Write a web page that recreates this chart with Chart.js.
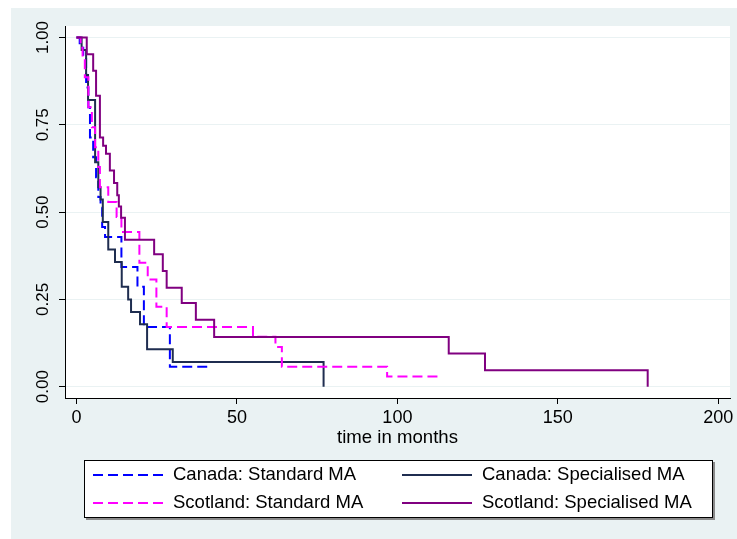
<!DOCTYPE html>
<html>
<head>
<meta charset="utf-8">
<script src="https://cdn.jsdelivr.net/npm/chart.js@4.4.1/dist/chart.umd.min.js"></script>
<style>
  html, body { margin: 0; padding: 0; background: #ffffff; }
  #wrap { width: 737px; height: 539px; }
</style>
</head>
<body>
<div id="wrap"><canvas id="kmChart" width="737" height="539"></canvas></div>
<script>
// Kaplan-Meier survival estimates (time in months, survival)
const canadaStdTime = [0, 1, 2.1, 3, 3.7, 4.2, 5.2, 6.1, 6.8, 7.5, 8, 8.9, 14, 19, 21, 29.1, 41];
const canadaStdSurv = [1, 0.971, 0.943, 0.857, 0.8, 0.714, 0.657, 0.6, 0.543, 0.514, 0.457, 0.429, 0.343, 0.286, 0.171, 0.057, 0.057];

const canadaSpecTime = [0, 1.6, 3, 3.6, 5.8, 6.8, 7.5, 8.2, 9.9, 12, 14.1, 16.1, 17, 19.8, 22, 30, 77];
const canadaSpecSurv = [1, 0.964, 0.893, 0.821, 0.643, 0.571, 0.536, 0.472, 0.393, 0.357, 0.286, 0.25, 0.214, 0.179, 0.107, 0.071, 0];

const scotStdTime = [0, 1.3, 1.9, 2.6, 3.7, 4.8, 5.8, 6.8, 7.3, 9.9, 12.5, 14, 19.6, 22.2, 24.9, 28.1, 55, 62, 64, 96.8, 114];
const scotStdSurv = [1, 0.971, 0.943, 0.886, 0.8, 0.743, 0.686, 0.629, 0.571, 0.529, 0.486, 0.443, 0.355, 0.307, 0.229, 0.171, 0.143, 0.114, 0.057, 0.029, 0.029];

const scotSpecTime = [0, 3.2, 5.2, 6.1, 7.3, 8.3, 9.2, 10.4, 11.7, 12.7, 13.2, 13.9, 15.1, 24.2, 26.9, 28.1, 32.8, 37.2, 42.9, 116, 127.3, 178];
const scotSpecSurv = [1, 0.952, 0.905, 0.833, 0.714, 0.69, 0.667, 0.619, 0.583, 0.548, 0.516, 0.484, 0.421, 0.379, 0.331, 0.283, 0.24, 0.192, 0.142, 0.095, 0.047, 0];

const seriesNames = ['Canada: Standard MA', 'Canada: Specialised MA', 'Scotland: Standard MA', 'Scotland: Specialised MA'];

const xTickValues = [0, 50, 100, 150, 200];
const xTickLabels = ['0', '50', '100', '150', '200'];
const yTickValues = [0, 0.25, 0.5, 0.75, 1];
const yTickLabels = ['0.00', '0.25', '0.50', '0.75', '1.00'];

const FONT = "'Liberation Sans', Arial, Helvetica, sans-serif";
const BG = '#eaf2f3';

function toPoints(times, surv) {
    return times.map((t, i) => ({ x: t, y: surv[i] }));
}

const colors = ['#0000ff', '#1f2d50', '#ff00ff', '#800080'];
const dashes = [[10, 5], [], [10, 5], []];
const allTimes = [canadaStdTime, canadaSpecTime, scotStdTime, scotSpecTime];
const allSurv = [canadaStdSurv, canadaSpecSurv, scotStdSurv, scotSpecSurv];

// 'before' in Chart.js = hold the previous value, then drop at the new time
const datasets = seriesNames.map((name, i) => ({
    label: name,
    data: toPoints(allTimes[i], allSurv[i]),
    borderColor: colors[i],
    borderWidth: 2,
    borderDash: dashes[i],
    stepped: 'before',
    pointRadius: 0,
    fill: false,
    order: 3 - i
}));

// background, y labels, axis title and the boxed legend
const stataLook = {
    id: 'stataLook',
    beforeDraw(chart) {
        const ctx = chart.ctx;
        const a = chart.chartArea;
        ctx.save();
        ctx.fillStyle = '#ffffff';
        ctx.fillRect(0, 0, chart.width, chart.height);
        ctx.fillStyle = BG;
        ctx.fillRect(11, 8, chart.width - 11, chart.height - 8);
        ctx.fillStyle = '#ffffff';
        ctx.fillRect(a.left, a.top, a.right - a.left, a.bottom - a.top);
        ctx.restore();
    },
    afterDraw(chart) {
        const ctx = chart.ctx;
        const a = chart.chartArea;
        const yScale = chart.scales.y;
        ctx.save();

        // rotated y tick labels
        ctx.fillStyle = '#000';
        ctx.font = '17px ' + FONT;
        ctx.textAlign = 'center';
        ctx.textBaseline = 'middle';
        yTickValues.forEach((v, i) => {
            const py = yScale.getPixelForValue(v);
            ctx.save();
            ctx.translate(43, py);
            ctx.rotate(-Math.PI / 2);
            ctx.fillText(yTickLabels[i], 0, 0);
            ctx.restore();
        });

        // x axis title
        ctx.font = '18.6px ' + FONT;
        ctx.fillText('time in months', (a.left + a.right) / 2, 438);

        // legend box with shadow
        const bx = 84, by = 460, bw = 629, bh = 58;
        ctx.fillStyle = '#8a8a8a';
        ctx.fillRect(bx + 2, by + 2, bw, bh);
        ctx.fillStyle = '#ffffff';
        ctx.fillRect(bx, by, bw, bh);
        ctx.strokeStyle = '#000';
        ctx.lineWidth = 1;
        ctx.strokeRect(bx + 0.5, by + 0.5, bw - 1, bh - 1);

        const cols = [93, 402];
        const rows = [475, 503];
        ctx.font = '18.5px ' + FONT;
        ctx.textAlign = 'left';
        chart.data.datasets.forEach((ds, i) => {
            const cx = cols[i % 2];
            const cy = rows[Math.floor(i / 2)];
            ctx.strokeStyle = ds.borderColor;
            ctx.lineWidth = 2;
            ctx.setLineDash(ds.borderDash);
            ctx.beginPath();
            ctx.moveTo(cx, cy);
            ctx.lineTo(cx + 70, cy);
            ctx.stroke();
            ctx.setLineDash([]);
            ctx.fillStyle = '#000';
            ctx.fillText(ds.label, cx + 80, cy);
        });
        ctx.restore();
    }
};

const ctx = document.getElementById('kmChart').getContext('2d');
new Chart(ctx, {
    type: 'line',
    data: { datasets: datasets },
    options: {
        responsive: false,
        animation: false,
        layout: { padding: { left: 0, top: 26, right: 7, bottom: 0 } },
        plugins: {
            legend: { display: false },
            tooltip: { enabled: false }
        },
        scales: {
            x: {
                type: 'linear',
                min: -3.58,
                max: 203.65,
                afterFit(scale) { scale.height = 141; },
                afterBuildTicks(scale) { scale.ticks = xTickValues.map(v => ({ value: v })); },
                grid: { drawOnChartArea: false, drawTicks: true, tickLength: 6, tickColor: '#000' },
                border: { color: '#000', width: 1 },
                ticks: {
                    padding: 3,
                    color: '#000',
                    font: { family: FONT, size: 18 },
                    callback: (v) => xTickLabels[xTickValues.indexOf(v)]
                }
            },
            y: {
                type: 'linear',
                min: -0.0324,
                max: 1.033,
                afterFit(scale) { scale.width = 65; },
                afterBuildTicks(scale) { scale.ticks = yTickValues.map(v => ({ value: v })); },
                grid: { color: BG, lineWidth: 1, drawTicks: true, tickLength: 6, tickColor: '#000' },
                border: { color: '#000', width: 1 },
                ticks: { display: false }
            }
        }
    },
    plugins: [stataLook]
});
</script>
</body>
</html>
